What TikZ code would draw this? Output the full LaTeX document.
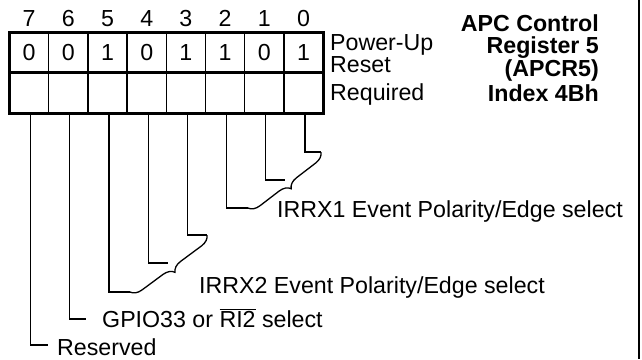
\documentclass[tikz,border=0pt]{standalone}
\usepackage{fontspec}
\setmainfont{Liberation Sans}
\usetikzlibrary{positioning,decorations.pathreplacing}

\begin{document}
\begin{tikzpicture}[x=1pt, y=-1pt,
    bitcell/.style={rectangle, draw, line width=1.3pt, outer sep=0pt, inner sep=0pt,
        minimum width=39.2pt, minimum height=40.7pt,
        font=\fontsize{23.2}{25}\selectfont},
    bitnum/.style={inner sep=0pt, label distance=5pt, font=\fontsize{23.2}{25}\selectfont},
    border/.style={line width=3pt},
    lead/.style={line width=1.3pt},
    desc/.style={anchor=base west, inner sep=0pt, font=\fontsize{23.2}{25}\selectfont},
    title/.style={anchor=base east, inner sep=0pt, font=\fontsize{23.2}{25}\selectfont\bfseries}
]
    \useasboundingbox (0,0) rectangle (642,359);
    % register cells, power-up row
    \node[bitcell, label={[bitnum]above:7}] (c7) at (29.1,52.35) {0};
    \node[bitcell, label={[bitnum]above:6}, right=0pt of c7] (c6) {0};
    \node[bitcell, label={[bitnum]above:5}, right=0pt of c6] (c5) {1};
    \node[bitcell, label={[bitnum]above:4}, right=0pt of c5] (c4) {0};
    \node[bitcell, label={[bitnum]above:3}, right=0pt of c4] (c3) {1};
    \node[bitcell, label={[bitnum]above:2}, right=0pt of c3] (c2) {1};
    \node[bitcell, label={[bitnum]above:1}, right=0pt of c2] (c1) {0};
    \node[bitcell, label={[bitnum]above:0}, right=0pt of c1] (c0) {1};
    % required row
    \node[bitcell, below=0pt of c7] (r7) {};
    \node[bitcell, below=0pt of c6] (r6) {};
    \node[bitcell, below=0pt of c5] (r5) {};
    \node[bitcell, below=0pt of c4] (r4) {};
    \node[bitcell, below=0pt of c3] (r3) {};
    \node[bitcell, below=0pt of c2] (r2) {};
    \node[bitcell, below=0pt of c1] (r1) {};
    \node[bitcell, below=0pt of c0] (r0) {};
    \draw[border] (c7.north west) rectangle (r0.south east);
    \draw[border] (c7.south west) -- (c0.south east);

    \node[desc] (pur) at (330,50) {Power-Up};
    \node[desc] (rst) at (330,72) {Reset};
    \node[desc] (req) at (330,100) {Required};

    \node[title] (t1) at (599,31) {APC Control};
    \node[title] (t2) at (599,53) {Register 5};
    \node[title] (t3) at (599,76) {(APCR5)};
    \node[title] (t4) at (599,101) {Index 4Bh};

    % lead ends
    \coordinate (e7) at (48,345);
    \coordinate (e6) at (86,319);
    \coordinate (e5) at (130,292);
    \coordinate (e4) at (168,263);
    \coordinate (e3) at (207,235);
    \coordinate (e2) at (248,208);
    \coordinate (e1) at (285,180);
    \coordinate (e0) at (321,152);
    \foreach \b in {7,...,0}
        \draw[lead] ([xshift=1.5pt]r\b.south) |- (e\b);
    \draw[lead, decorate, decoration={brace, mirror, amplitude=11pt}] (e5) -- (e3);
    \draw[lead, decorate, decoration={brace, mirror, amplitude=11pt}] (e2) -- (e0);

    \node[desc] (irrx1) at (277,217) {IRRX1 Event Polarity/Edge select};
    \node[desc] (irrx2) at (199,293) {IRRX2 Event Polarity/Edge select};
    \node[desc] (gpio) at (102,327) {GPIO33 or $\overline{\mbox{RI2}}$ select};
    \node[desc] (rsv) at (57,355) {Reserved};

    % page frame
    \draw[line width=2.5pt] (639,0) -- (639,359);
\end{tikzpicture}
\end{document}
